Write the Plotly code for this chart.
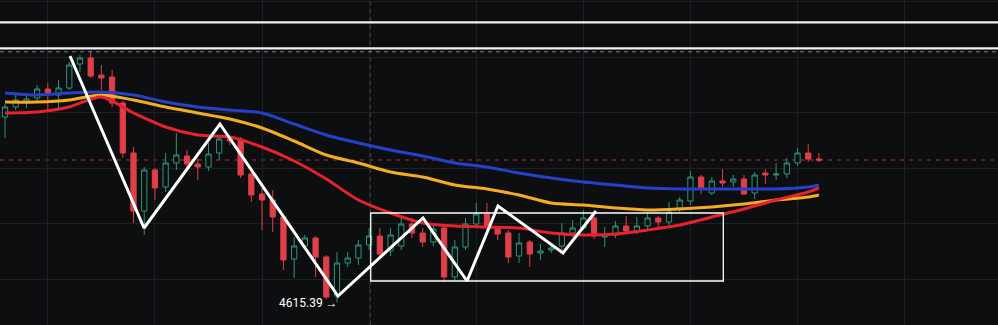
import plotly.graph_objects as go

# ---- candle data (index, open, high, low, close) ----
candle_idx = list(range(77))
opens = [4661.75, 4664.25, 4665.5, 4666.5, 4668.75, 4667.25, 4669.0, 4675.0, 4676.5, 4672.25,
         4671.75, 4665.25, 4652.75, 4638.25, 4648.5, 4644.25, 4650.25, 4652.0, 4650.0, 4649.25,
         4652.75, 4656.25, 4656.25, 4647.5, 4642.5, 4641.0, 4636.75, 4626.25, 4629.5, 4631.5,
         4626.75, 4617.0, 4625.25, 4626.5, 4629.75, 4632.0, 4628.25, 4629.5, 4635.0, 4632.75,
         4630.5, 4634.0, 4621.75, 4629.25, 4635.0, 4637.5, 4634.0, 4632.75, 4627.0, 4630.5,
         4627.75, 4628.5, 4629.5, 4632.75, 4634.0, 4636.5, 4631.75, 4632.25, 4634.5, 4633.25,
         4634.5, 4636.5, 4635.5, 4639.0, 4640.75, 4646.75, 4642.75, 4645.75, 4645.5, 4646.25,
         4642.75, 4647.75, 4647.25, 4647.5, 4650.25, 4652.75, 4651.25]
highs = [4665.0, 4667.25, 4667.75, 4669.75, 4670.25, 4671.0, 4675.5, 4677.25, 4678.25, 4674.75,
         4673.5, 4665.75, 4654.25, 4649.25, 4649.0, 4652.75, 4657.75, 4653.5, 4651.25, 4655.25,
         4657.0, 4656.75, 4656.75, 4648.5, 4644.0, 4643.5, 4637.25, 4631.75, 4632.25, 4632.0,
         4627.25, 4628.0, 4628.0, 4631.0, 4634.0, 4634.0, 4634.0, 4636.5, 4636.5, 4634.0,
         4635.25, 4634.5, 4631.0, 4636.5, 4640.25, 4640.25, 4634.5, 4633.5, 4632.75, 4631.0,
         4630.0, 4630.25, 4635.25, 4636.0, 4638.5, 4637.0, 4634.25, 4635.75, 4637.0, 4636.75,
         4637.75, 4637.0, 4640.5, 4641.75, 4648.25, 4647.25, 4646.75, 4648.75, 4647.25, 4647.25,
         4648.0, 4648.75, 4650.25, 4651.5, 4654.0, 4655.0, 4652.75]
lows = [4656.5, 4663.5, 4664.0, 4665.25, 4663.5, 4663.5, 4668.5, 4673.0, 4671.5, 4668.5,
        4664.25, 4651.5, 4635.25, 4632.25, 4641.0, 4643.0, 4648.5, 4648.5, 4646.0, 4648.25,
        4651.0, 4654.75, 4646.5, 4640.5, 4633.5, 4633.0, 4623.5, 4621.5, 4628.5, 4621.75,
        4616.25, 4615.39, 4624.25, 4624.75, 4628.5, 4626.75, 4627.0, 4628.5, 4631.5, 4629.25,
        4629.5, 4620.5, 4620.75, 4628.5, 4634.0, 4633.5, 4631.0, 4625.25, 4625.25, 4624.25,
        4626.0, 4627.75, 4628.5, 4631.75, 4633.5, 4631.25, 4629.25, 4631.5, 4632.75, 4632.5,
        4633.75, 4633.5, 4634.75, 4638.0, 4639.75, 4642.5, 4642.25, 4644.25, 4644.25, 4642.25,
        4641.25, 4645.0, 4646.0, 4646.5, 4649.5, 4650.5, 4650.5]
closes = [4664.25, 4666.0, 4666.25, 4668.75, 4667.5, 4669.0, 4674.75, 4676.5, 4672.0, 4671.5,
          4665.25, 4652.75, 4638.25, 4648.5, 4644.0, 4650.25, 4652.25, 4650.0, 4649.25, 4652.5,
          4656.25, 4655.75, 4647.25, 4642.25, 4641.0, 4636.75, 4626.0, 4629.5, 4631.5, 4626.75,
          4616.75, 4625.25, 4626.5, 4629.75, 4632.0, 4627.5, 4632.25, 4635.0, 4632.75, 4630.5,
          4633.75, 4621.75, 4629.25, 4635.0, 4637.5, 4634.25, 4632.5, 4626.75, 4630.25, 4627.5,
          4628.25, 4629.0, 4632.75, 4634.0, 4636.5, 4632.0, 4632.25, 4634.5, 4633.25, 4634.5,
          4636.5, 4635.5, 4638.0, 4641.0, 4646.75, 4644.0, 4645.75, 4645.25, 4646.25, 4642.5,
          4647.25, 4647.25, 4647.5, 4650.25, 4652.75, 4651.25, 4651.0]

# ---- moving averages ----
ma_idx = [0, 3, 6, 9, 12, 15, 18, 21, 24, 27, 30, 33, 36, 39, 42, 45, 48, 51, 54, 57, 60, 63, 66, 69, 72, 75, 76]
ma_blue = [4667.75, 4667.25, 4667.75, 4668.0, 4667.25, 4665.5, 4664.25, 4663.5, 4662.75, 4660.0,
           4657.25, 4655.25, 4653.5, 4652.0, 4650.25, 4649.25, 4647.75, 4646.5, 4645.5, 4644.75,
           4644.0, 4643.75, 4643.75, 4643.75, 4643.75, 4644.25, 4644.75]
ma_orange = [4665.5, 4665.5, 4666.0, 4667.25, 4666.0, 4664.25, 4662.75, 4661.25, 4659.0, 4655.75,
             4652.25, 4650.25, 4648.0, 4646.75, 4644.75, 4643.75, 4642.25, 4640.25, 4639.75, 4639.0,
             4638.5, 4638.75, 4639.25, 4640.0, 4641.0, 4641.75, 4642.25]
ma_red = [4662.75, 4663.0, 4664.25, 4666.75, 4662.75, 4659.25, 4657.25, 4656.75, 4654.25, 4650.75,
          4646.25, 4641.0, 4637.75, 4635.25, 4634.5, 4634.25, 4634.0, 4632.75, 4632.25, 4632.5,
          4633.5, 4634.75, 4636.75, 4638.75, 4641.0, 4643.0, 4644.0]

# ---- drawings ----
zigzag_idx = [6.07, 12.98, 20.07, 31.09, 39.03, 43.14, 46.03, 52.1, 55.18]
zigzag_price = [4677.0, 4634.0, 4660.0, 4617.0, 4636.5, 4620.75, 4639.5, 4627.75, 4638.25]
box_idx = [34.15, 67.07]
box_price = [4620.75, 4637.75]
top_levels = [4685.4, 4678.9]
dashed_level = 4678.05
crosshair_idx = 34.08
low_label = "4615.39 →"
low_label_idx = 31.25

BG = "#0d0e10"
GRID = "#1f2023"
GREEN = "#2f9478"
RED = "#df3f48"

fig = go.Figure()
fig.add_trace(go.Candlestick(
    x=candle_idx, open=opens, high=highs, low=lows, close=closes,
    increasing=dict(line=dict(color=GREEN, width=1), fillcolor=BG),
    decreasing=dict(line=dict(color=RED, width=1), fillcolor=RED),
    whiskerwidth=0, hoverinfo="skip", showlegend=False))

for vals, col in [(ma_orange, "#f5ac25"), (ma_blue, "#2540c9"), (ma_red, "#e8222d")]:
    fig.add_trace(go.Scatter(x=ma_idx, y=vals, mode="lines",
                             line=dict(color=col, width=3, shape="spline", smoothing=0.8),
                             hoverinfo="skip", showlegend=False))

fig.add_trace(go.Scatter(x=zigzag_idx, y=zigzag_price, mode="lines",
                         line=dict(color="white", width=3), hoverinfo="skip", showlegend=False))

shapes = []
# last price dashed line
shapes.append(dict(type="line", xref="paper", x0=0, x1=1, y0=closes[-1], y1=closes[-1],
                   line=dict(color="rgba(223,63,72,0.75)", width=1, dash="4px,5px"), layer="below"))
# crosshair
shapes.append(dict(type="line", yref="paper", y0=0, y1=1, x0=crosshair_idx, x1=crosshair_idx,
                   line=dict(color="rgba(150,152,160,0.7)", width=1, dash="4px,4px"), layer="below"))
# top horizontal lines
for lv in top_levels:
    shapes.append(dict(type="line", xref="paper", x0=0, x1=1, y0=lv, y1=lv,
                       line=dict(color="#f2f2f2", width=2.2), layer="above"))
shapes.append(dict(type="line", xref="paper", x0=0, x1=1, y0=dashed_level, y1=dashed_level,
                   line=dict(color="rgba(170,170,175,0.7)", width=1, dash="4px,4px"), layer="above"))
# rectangle
shapes.append(dict(type="rect", x0=box_idx[0], x1=box_idx[1], y0=box_price[0], y1=box_price[1],
                   line=dict(color="white", width=1.3), fillcolor="rgba(0,0,0,0)", layer="above"))

fig.update_layout(
    width=998, height=325, margin=dict(l=0, r=0, t=0, b=0),
    paper_bgcolor=BG, plot_bgcolor=BG, showlegend=False,
    shapes=shapes,
    annotations=[dict(x=low_label_idx, y=lows[31] - 0.2, text=low_label, showarrow=False,
                      xanchor="right", yanchor="middle",
                      font=dict(color="#ffffff", size=12, family="Roboto"))],
    xaxis=dict(range=[-0.467, 92.72], showgrid=True, gridcolor=GRID, gridwidth=1,
               tick0=4, dtick=10, showticklabels=False, zeroline=False,
               rangeslider=dict(visible=False), fixedrange=True),
    yaxis=dict(range=[4609.75, 4691], showgrid=True, gridcolor=GRID, gridwidth=1,
               tick0=4676.75, dtick=13.875, showticklabels=False, zeroline=False, fixedrange=True),
)

fig.write_html("out.html")
